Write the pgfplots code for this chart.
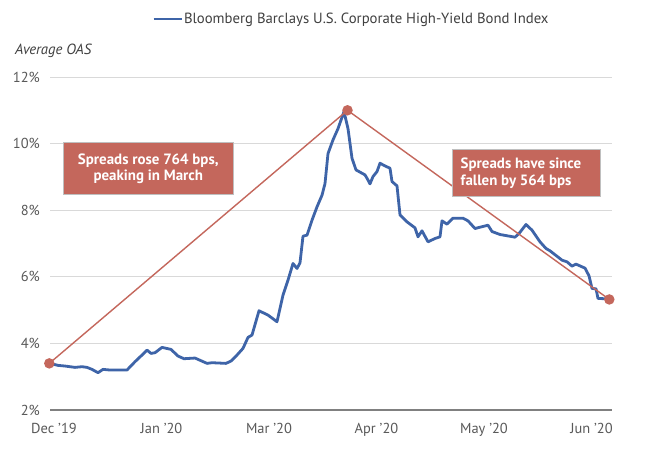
\documentclass[border=0pt]{standalone}
\usepackage{pgfplots}
\pgfplotsset{compat=1.18}
\usepackage{fontspec}
\setmainfont{PT Sans}
\definecolor{blueline}{HTML}{3E64A8}
\definecolor{redc}{HTML}{C4675C}
\definecolor{gridc}{HTML}{D9D9D9}
\definecolor{axisc}{HTML}{808080}
\definecolor{txtc}{HTML}{595959}
\definecolor{legc}{HTML}{404040}
\begin{document}
\begin{tikzpicture}
\path[fill=white] (0,0) rectangle (650bp,475bp);
\node[anchor=west, font=\itshape\fontsize{14.8}{16}\selectfont, text=legc, inner sep=0] at (15bp,424bp) {Average OAS};
\begin{axis}[
  at={(50bp,65bp)}, anchor=south west,
  scale only axis, width=562bp, height=333bp,
  xmin=50, xmax=612, ymin=2, ymax=12,
  clip=false,
  axis x line*=bottom, axis y line*=left,
  y axis line style={draw=none},
  x axis line style={draw=axisc, line width=2bp, -},
  major tick length=0pt,
  ytick={2,4,6,8,10,12},
  yticklabels={2\%,4\%,6\%,8\%,10\%,12\%},
  ymajorgrids, grid style={gridc, line width=0.9bp},
  xtick={54,161.5,269,376.5,484,591.5},
  xticklabels={Dec '19,Jan '20,Mar '20,Apr '20,May '20,Jun '20},
  tick label style={font=\fontsize{14.5}{16}\selectfont, text=txtc},
  xticklabel style={anchor=base, yshift=-23.5bp, inner sep=0pt},
  yticklabel style={anchor=east, xshift=-10bp, inner sep=0pt},
  /pgf/number format/assume math mode=true,
  legend style={at={(0.1815,1.174)}, anchor=west, draw=none, fill=none,
    inner xsep=0pt, inner ysep=0pt, font=\fontsize{14.8}{16}\selectfont, text=legc,
    nodes={inner sep=1bp}},
  legend image code/.code={\draw[#1] (0bp,0bp) -- (28bp,0bp);},
]
\addplot[blueline, line width=2.8bp, line join=round] coordinates {
(50,3.40) (58,3.34) (65,3.32) (75,3.28) (82,3.30) (87,3.28) (92,3.22) (98,3.12)
(103,3.22) (110,3.20) (127,3.20) (135,3.45) (142,3.65) (147,3.80) (151,3.70)
(155,3.72) (162,3.88) (171,3.82) (178,3.62) (184,3.54) (195,3.56) (207,3.40)
(212,3.42) (226,3.40) (231,3.47) (237,3.65) (243,3.85) (248,4.18) (252,4.25)
(259,4.98) (268,4.85) (277,4.65) (283,5.45) (288,5.90) (293,6.40) (297,6.25)
(300,6.42) (303,7.22) (307,7.25) (312,7.70) (317,8.10) (322,8.45) (325,8.80)
(328,9.70) (333,10.11) (338,10.45) (344,10.96) (348,10.45) (352,9.56) (356,9.21)
(365,9.06) (367,8.96) (370,8.79) (373,9.01) (377,9.16) (380,9.41) (385,9.33)
(390,9.26) (392,8.86) (397,8.73) (400,7.86) (407,7.65) (415,7.47) (418,7.20)
(422,7.38) (428,7.05) (435,7.15) (440,7.20) (442,7.68) (447,7.58) (453,7.76)
(463,7.76) (468,7.68) (475,7.45) (488,7.55) (492,7.36) (500,7.27) (515,7.19)
(519,7.30) (526,7.57) (532,7.40) (540,7.05) (546,6.85) (550,6.78) (562,6.50)
(567,6.45) (572,6.32) (576,6.38) (585,6.26) (589,6.03) (592,5.65) (596,5.64)
(598,5.35) (606,5.34)
};
\addlegendentry{Bloomberg Barclays U.S. Corporate High-Yield Bond Index}
\addplot[redc, line width=1.4bp, mark=*, mark size=4.5bp, mark options={fill=redc, draw=redc}, forget plot] coordinates {
(49.3,3.40) (347.5,11.0) (609.3,5.32)
};
\draw[fill=redc, draw=gray!50, line width=0.8bp] (axis cs:63.3,10.03) rectangle (axis cs:233.3,8.48);
\node[align=center, text=white, font=\bfseries\fontsize{15}{16.7}\selectfont, inner sep=0] at (axis cs:148.3,9.25) {Spreads rose 764 bps,\\peaking in March};
\draw[fill=redc, draw=gray!50, line width=0.8bp] (axis cs:452.3,9.83) rectangle (axis cs:600.7,8.40);
\node[align=left, anchor=west, text=white, font=\bfseries\fontsize{15}{16.7}\selectfont, inner sep=0] at (axis cs:460.5,9.12) {Spreads have since\\fallen by 564 bps};
\end{axis}
\end{tikzpicture}
\end{document}
